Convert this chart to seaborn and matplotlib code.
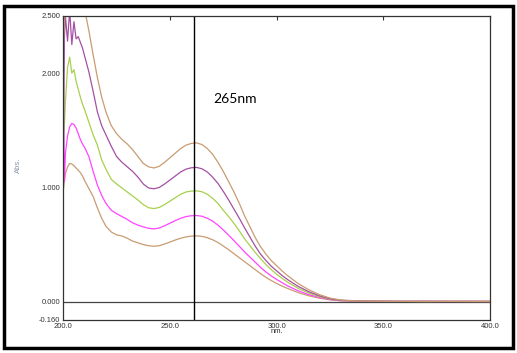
"""
UV absorbance spectra, five concentrations, marker at 265nm
"""
import numpy as np
import pandas as pd
import matplotlib
matplotlib.use("Agg")
import matplotlib.pyplot as plt
import seaborn as sns
from matplotlib.patches import Rectangle

# wavelength grid (nm)
wavelength = [200, 200.5, 201, 202, 203, 204, 205, 206, 207, 208, 209, 210,
              212, 214, 216, 218, 220, 222.5, 225, 227.5, 230, 232.5, 235, 237.5,
              240, 242.5, 245, 247.5, 250, 252.5, 255, 257.5, 260, 262.5, 265,
              267.5, 270, 272.5, 275, 277.5, 280, 282.5, 285, 287.5, 290, 292.5,
              295, 297.5, 300, 302.5, 305, 310, 315, 320, 325, 330,
              340, 350, 360, 370, 380, 390, 400]

# absorbance of each solution, lowest to highest
abs_1 = [0.97, 1.05, 1.12, 1.18, 1.21, 1.205, 1.19, 1.17, 1.15, 1.13, 1.10, 1.06,
         0.99, 0.92, 0.82, 0.73, 0.66, 0.61, 0.585, 0.575, 0.555, 0.53, 0.515, 0.50,
         0.49, 0.485, 0.49, 0.505, 0.522, 0.54, 0.555, 0.567, 0.574, 0.576, 0.572,
         0.56, 0.542, 0.518, 0.487, 0.455, 0.42, 0.385, 0.35, 0.315, 0.28, 0.245,
         0.213, 0.185, 0.16, 0.137, 0.117, 0.08, 0.052, 0.031, 0.016, 0.008,
         0.004, 0.003, 0.003, 0.002, 0.003, 0.002, 0.002]
abs_2 = [1.90, 1.05, 1.30, 1.45, 1.53, 1.56, 1.55, 1.52, 1.47, 1.42, 1.38, 1.35,
         1.27, 1.14, 1.02, 0.93, 0.86, 0.80, 0.77, 0.745, 0.72, 0.69, 0.67, 0.655,
         0.642, 0.637, 0.645, 0.665, 0.687, 0.71, 0.73, 0.745, 0.752, 0.754, 0.748,
         0.73, 0.705, 0.67, 0.628, 0.582, 0.535, 0.485, 0.435, 0.39, 0.345, 0.30,
         0.26, 0.225, 0.195, 0.167, 0.14, 0.096, 0.062, 0.037, 0.019, 0.009,
         0.004, 0.003, 0.003, 0.003, 0.002, 0.003, 0.002]
abs_3 = [1.45, 1.55, 1.75, 2.05, 2.14, 2.00, 2.03, 1.93, 1.86, 1.79, 1.73, 1.68,
         1.57, 1.46, 1.37, 1.24, 1.16, 1.07, 1.03, 0.995, 0.96, 0.925, 0.89, 0.85,
         0.822, 0.815, 0.825, 0.85, 0.88, 0.91, 0.94, 0.96, 0.968, 0.97, 0.962,
         0.94, 0.905, 0.86, 0.80, 0.745, 0.685, 0.62, 0.55, 0.49, 0.43, 0.375,
         0.325, 0.28, 0.24, 0.205, 0.172, 0.118, 0.076, 0.045, 0.023, 0.011,
         0.004, 0.003, 0.003, 0.002, 0.003, 0.003, 0.002]
abs_4 = [1.00, 2.30, 2.50, 2.28, 2.55, 2.25, 2.45, 2.30, 2.32, 2.27, 2.22, 2.15,
         2.01, 1.84, 1.66, 1.54, 1.46, 1.36, 1.27, 1.22, 1.18, 1.14, 1.09, 1.03,
         0.995, 0.988, 1.0, 1.03, 1.065, 1.10, 1.135, 1.16, 1.172, 1.175, 1.163,
         1.135, 1.09, 1.035, 0.965, 0.89, 0.81, 0.73, 0.645, 0.565, 0.485, 0.415,
         0.36, 0.31, 0.27, 0.23, 0.195, 0.135, 0.088, 0.052, 0.026, 0.012,
         0.005, 0.004, 0.003, 0.004, 0.003, 0.003, 0.003]
abs_5 = [2.20, 2.45, 2.60, 2.70, 2.70, 2.70, 2.70, 2.70, 2.70, 2.70, 2.65, 2.56,
         2.37, 2.16, 1.96, 1.79, 1.66, 1.54, 1.47, 1.42, 1.38, 1.33, 1.27, 1.21,
         1.18, 1.17, 1.185, 1.22, 1.26, 1.30, 1.34, 1.37, 1.385, 1.39, 1.375,
         1.34, 1.29, 1.22, 1.14, 1.05, 0.96, 0.86, 0.75, 0.655, 0.56, 0.48,
         0.415, 0.36, 0.315, 0.27, 0.23, 0.16, 0.105, 0.062, 0.032, 0.015,
         0.005, 0.004, 0.003, 0.003, 0.003, 0.002, 0.003]

series_names = ["s1", "s2", "s3", "s4", "s5"]
series_colors = ["#C99C72", "#FF45FF", "#A8D04C", "#A450A4", "#C99C72"]

x_ticks = [200, 250, 300, 350, 400]
x_labels = ["200.0", "250.0", "300.0", "350.0", "400.0"]
y_ticks = [-0.16, 0.0, 1.0, 2.0, 2.5]
y_labels = ["-0.160", "0.000", "1.000", "2.000", "2.500"]

marker_nm = 261.3
marker_text = "265nm"

# long form table for seaborn
frames = []
for name, vals in zip(series_names, [abs_1, abs_2, abs_3, abs_4, abs_5]):
    frames.append(pd.DataFrame({"nm": wavelength, "Abs": vals, "sample": name}))
df = pd.concat(frames, ignore_index=True)

sns.set_style("white")
plt.rcParams["font.family"] = ["Liberation Sans", "DejaVu Sans"]

fig = plt.figure(figsize=(5.17, 3.53), dpi=100)
ax = fig.add_axes([0.1224, 0.0935, 0.8254, 0.8612])

sns.lineplot(data=df, x="nm", y="Abs", hue="sample", palette=series_colors,
             estimator=None, sort=False, linewidth=0.9, legend=False, ax=ax)

ax.axhline(0, color="#444444", linewidth=0.9, zorder=1)
ax.axvline(marker_nm, color="black", linewidth=1.0)
ax.text(270.2, 1.77, marker_text, fontsize=10, family=["Lato", "DejaVu Sans"],
        ha="left", va="center", color="black")

ax.set_xlim(200, 400)
ax.set_ylim(-0.16, 2.5)
ax.set_xticks(x_ticks)
ax.set_xticklabels(x_labels)
ax.set_yticks(y_ticks)
ax.set_yticklabels(y_labels)
ax.tick_params(axis="both", direction="in", length=3, width=0.8, labelsize=5.5,
               labelcolor="#333333", color="#333333", pad=2)
ax.tick_params(axis="x", top=True)

ax.set_xlabel("nm.", fontsize=5.5, color="#333333", labelpad=-1)
ax.set_ylabel("Abs.", fontsize=5.5, color="#8494A8")
ax.yaxis.set_label_coords(-0.097, 0.51)

for side in ["left", "right", "top", "bottom"]:
    ax.spines[side].set_color("#333333")
    ax.spines[side].set_linewidth(0.9)

# outer frame of the picture
fig.patches.append(Rectangle((4 / 517, 5 / 353), 509 / 517, 342 / 353,
                             transform=fig.transFigure, fill=False,
                             edgecolor="black", linewidth=2.5))

fig.savefig("out.png", dpi=100)
